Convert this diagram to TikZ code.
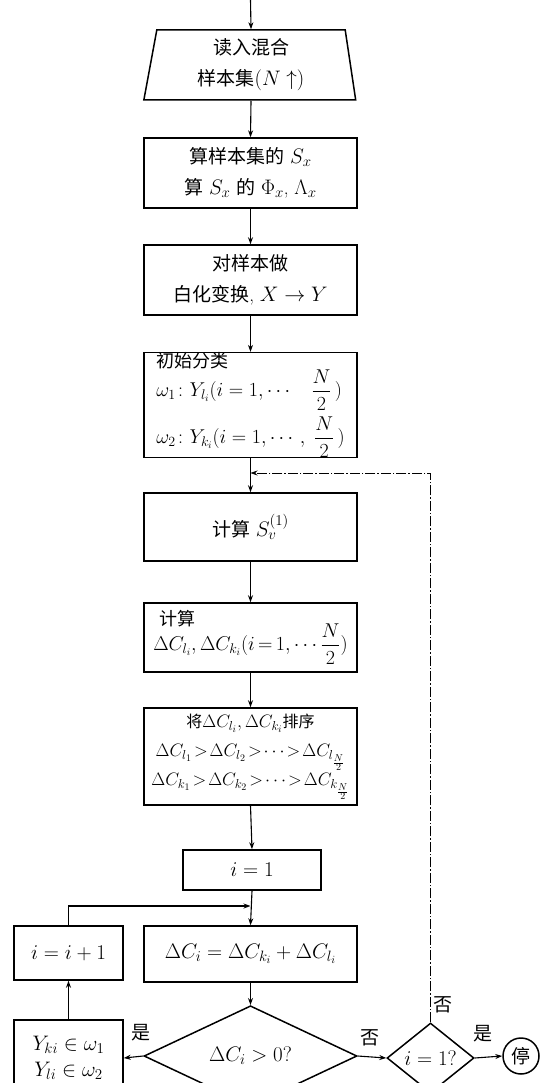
\RequirePackage{fix-cm}
\documentclass[tikz,border=0pt]{standalone}
\usepackage{amsmath}
\usepackage{fontspec}
\newfontfamily\cjk{Noto Sans CJK SC}
\DeclareMathSizes{19}{21}{15}{11}
\DeclareMathSizes{18}{20}{14}{10}
\DeclareMathSizes{17}{19}{13}{10}
\DeclareMathSizes{16}{18}{13}{10}
\usetikzlibrary{shapes.geometric,arrows.meta}
\newcommand\fsz{\fontsize{19}{31}\selectfont}
\begin{document}
\begin{tikzpicture}[x=1pt,y=-1pt,
  box/.style={draw, line width=1.5pt, minimum width=213pt, inner sep=0pt, align=center, font=\fsz},
  lbox/.style={draw, line width=1.5pt, minimum width=213pt, inner xsep=8pt, inner ysep=0pt, align=left, font=\fsz},
  dia/.style={draw, diamond, line width=1.5pt, inner sep=0pt, font=\fsz},
  arr/.style={-{Stealth[length=7pt,width=5pt]}, line width=1.1pt},
  fb/.style={line width=0.8pt, dash pattern=on 10pt off 2pt on 1.5pt off 2pt},
  lab/.style={font=\fsz\cjk, inner sep=0pt}]
\path[use as bounding box] (0,0) rectangle (550,1083);
\clip (0,0) rectangle (550,1083);
% nodes
\coordinate (start) at (250.5,0);
\node[trapezium, draw, line width=1.5pt, trapezium stretches=true,
  trapezium left angle=82, trapezium right angle=83.5,
  minimum width=212pt, minimum height=70pt, inner sep=0pt, align=center, font=\fsz]
  (b1) at (251,65) {{\cjk 读入混合}\\{\cjk 样本集}$(N\uparrow)$};
\node[box, minimum height=70pt] (b2) at (250.5,173)
  {{\cjk 算样本集的} $S_x$\\{\cjk 算} $S_x$ {\cjk 的} $\Phi_x$, $\Lambda_x$};
\node[box, minimum height=70pt] (b3) at (250.5,280)
  {{\cjk 对样本做}\\{\cjk 白化变换}, $X\to Y$};
\node[lbox, minimum height=104pt, font=\fontsize{18}{33}\selectfont] (b4) at (250.5,405)
  {{\cjk 初始分类}\\[-4pt]
   $\omega_1\colon Y_{l_i}(i=1,\cdots\quad\dfrac{N}{2}\,)$\\[5pt]
   $\omega_2\colon Y_{k_i}(i=1,\cdots,\;\dfrac{N}{2}\,)$};
\coordinate (join1) at (250.5,473);
\node[box, minimum height=68pt] (b5) at (250.5,527) {{\cjk 计算} $S_v^{(1)}$};
\node[lbox, minimum height=69pt, inner xsep=0pt, font=\fontsize{18}{29}\selectfont] (b6) at (250.5,637.5)
  {\hspace*{6pt}{\cjk 计算}\\[-4pt]
   $\thickmuskip=3mu \Delta C_{l_i},\Delta C_{k_i}(i=1,\cdots\dfrac{N}{2})$};
\node[box, minimum height=97pt, font=\fontsize{16}{29}\selectfont] (b7) at (250.5,756.5)
  {{\cjk 将}$\Delta C_{l_i},\Delta C_{k_i}${\cjk 排序}\\
   $\Delta C_{l_1}\!>\!\Delta C_{l_2}\!>\!\cdots\!>\!\Delta C_{l_{\frac{N}{2}}}$\\
   $\Delta C_{k_1}\!>\!\Delta C_{k_2}\!>\!\cdots\!>\!\Delta C_{k_{\frac{N}{2}}}$};
\node[box, minimum width=138pt, minimum height=40pt] (b8) at (252,870) {$i=1$};
\coordinate (join2) at (250.5,906);
\node[box, minimum height=56pt] (b9) at (250.5,954) {$\Delta C_i=\Delta C_{k_i}+\Delta C_{l_i}$};
\node[box, minimum width=109pt, minimum height=54pt] (inc) at (68.5,953) {$i=i+1$};
\node[box, minimum width=109pt, minimum height=76pt, font=\fontsize{19}{26}\selectfont] (yb) at (68.5,1058)
  {$Y_{ki}\in\omega_1$\\$Y_{li}\in\omega_2$};
\node[dia, minimum width=213pt, minimum height=74pt] (d1) at (250.5,1056) {$\Delta C_i>0?$};
\node[dia, minimum width=87pt, minimum height=70pt] (d2) at (430.5,1058) {$i=1?$};
\node[draw, circle, line width=1.5pt, minimum size=36pt, inner sep=0pt, font=\fsz\cjk] (stop) at (521,1056) {停};
\coordinate (fbc) at (430.5,473);
\coordinate (lpc) at (68.5,906);
% connectors
\draw[arr] (start) -- (b1.north);
\draw[arr] (b1.south) -- (b2.north);
\draw[arr] (b2.south) -- (b3.north);
\draw[arr] (b3.south) -- (b4.north);
\draw[arr] (b4.south) -- (b5.north);
\draw[arr] (b5.south) -- (b6.north);
\draw[arr] (b6.south) -- (b7.north);
\draw[arr] (b7.south) -- (b8.north);
\draw[arr] (b8.south) -- (b9.north);
\draw[arr] (b9.south) -- (d1.north);
\draw[arr] (d1.west) -- (yb.east);
\draw[arr] (yb.north) -- (inc.south);
\draw[arr] (inc.north) -- (lpc) -- (join2);
\draw[arr] (d1.east) -- (d2.west);
\draw[arr] (d2.east) -- (stop.west);
\draw[fb, -{Stealth[length=7pt,width=5pt]}] (d2.north) -- (fbc) -- (join1);
% labels
\node[lab] (l1) at (141,1033) {是};
\node[lab] (l2) at (370,1038) {否};
\node[lab] (l3) at (443,1005) {否};
\node[lab] (l4) at (483,1034) {是};
\end{tikzpicture}
\end{document}
